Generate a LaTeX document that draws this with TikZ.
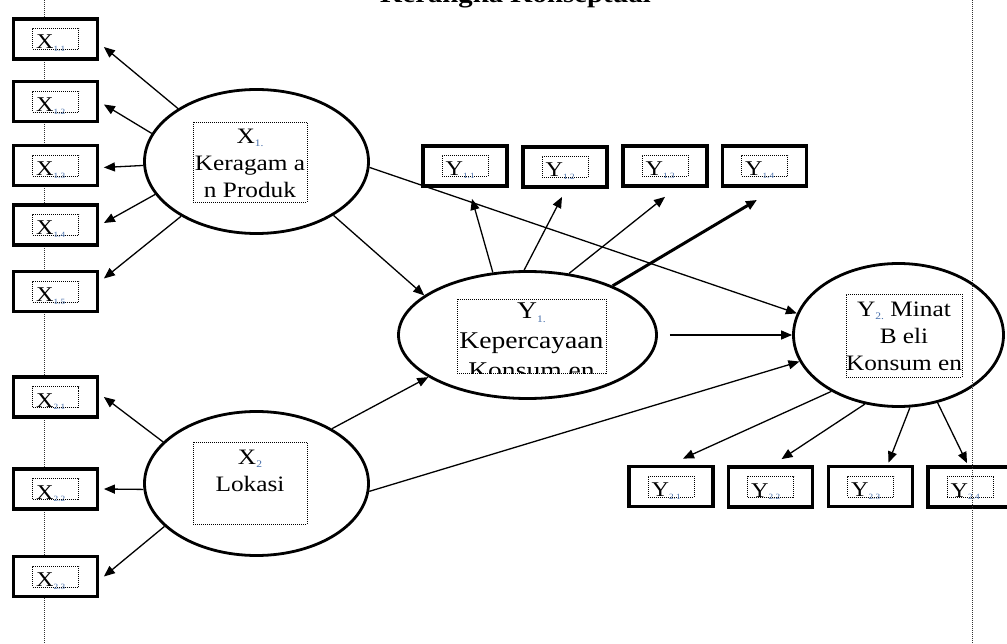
\documentclass[tikz,border=0pt]{standalone}
\usepackage{fontspec}
\setmainfont{Liberation Serif}[FakeStretch=1.15]
\usetikzlibrary{arrows.meta,shapes.geometric}
\definecolor{subcol}{RGB}{70,110,170}
\newcommand\mysub[2][10]{\raisebox{-0.3ex}{\fontsize{#1}{#1}\selectfont\textcolor{subcol}{#2}}}
\newcommand\mkind[4]{%
  \node[indbox] (#1) at (#2,#3) {};
  \node[dotbox, minimum width=46pt, minimum height=21pt] (#1d) at (#1) {};
  \node[smalltxt, anchor=base west] (#1t) at ([xshift=-19.5pt,yshift=-10pt]#1.center) {#4};
}
\begin{document}
\begin{tikzpicture}[x=1pt,y=-1pt,
  >={Triangle[length=11pt,width=9pt]},
  indbox/.style={draw, line width=3.8pt, fill=white, minimum width=84pt, minimum height=40pt, inner sep=0pt},
  dotbox/.style={draw, line width=0.9pt, dash pattern=on 1pt off 1pt, inner sep=0pt},
  smalltxt/.style={font=\fontsize{21}{21}\selectfont, inner sep=0pt},
  latent/.style={draw, ellipse, line width=2.8pt, fill=white, inner sep=0pt},
  lattext/.style={align=center, inner sep=0pt, font=\fontsize{22}{27}\selectfont},
  path/.style={->, line width=1.3pt},
  vline/.style={line width=1pt, dash pattern=on 1pt off 1pt, black!80}
]
\useasboundingbox (0,0) rectangle (1007,644);
\fill[white] (0,0) rectangle (1007,644);

% title (cut at top, as in the reference)
\node[font=\fontsize{25}{25}\selectfont\bfseries, anchor=base west, inner sep=0pt] (title) at (380,3) {Kerangka Konseptual};

% left dotted line
\coordinate (lt) at (44,0);
\coordinate (lb) at (44,644);
\draw[vline] (lt) -- (lb);

% latent variables
\node[latent, minimum width=224pt, minimum height=144pt] (X1) at (256.5,161.5) {};
\node[latent, minimum width=224pt, minimum height=144pt] (X2) at (256.5,483.5) {};
\node[latent, minimum width=258pt, minimum height=127pt] (Y1) at (527.5,335) {};
\node[latent, minimum width=210pt, minimum height=143pt] (Y2) at (898.5,335) {};

\node[dotbox, minimum width=114pt, minimum height=80pt] (X1b) at (250,162) {};
\node[lattext, anchor=north] (X1t) at (250,129) {X\mysub{1.}\\Keragam a\\n Produk};

\node[dotbox, minimum width=114pt, minimum height=82pt] (X2b) at (250,483) {};
\node[lattext, anchor=north] (X2t) at (250,450) {X\mysub{2}\\Lokasi};

\begin{scope}
\clip (457,299) rectangle (606,373);
\node[lattext, anchor=north, font=\fontsize{24}{30}\selectfont] (Y1t) at (531.5,303) {Y\mysub{1.}\\Kepercayaan\\Konsum en};
\end{scope}
\node[dotbox, minimum width=149pt, minimum height=74pt] (Y1b) at (531.5,336) {};

\node[dotbox, minimum width=116pt, minimum height=83pt] (Y2b) at (904,335.5) {};
\node[lattext, anchor=north] (Y2t) at (904,302) {Y\mysub{2.} Minat\\B eli\\Konsum en};

% indicators
\mkind{x11}{55.5}{39}{X\mysub[8]{1.1}}
\mkind{x12}{55.5}{101.5}{X\mysub[8]{1.2}}
\mkind{x13}{55.5}{165.5}{X\mysub[8]{1.3}}
\mkind{x14}{55.5}{225}{X\mysub[8]{1.4}}
\mkind{x15}{55.5}{291.5}{X\mysub[8]{1.5}}
\mkind{x21}{55.5}{397}{X\mysub[8]{2.1}}
\mkind{x22}{55.5}{489}{X\mysub[8]{2.2}}
\mkind{x23}{55.5}{576.5}{X\mysub[8]{2.3}}
\mkind{y11}{465}{166}{Y\mysub[8]{1.1}}
\mkind{y12}{565}{167}{Y\mysub[8]{1.2}}
\mkind{y13}{665}{166}{Y\mysub[8]{1.3}}
\mkind{y14}{764.5}{166}{Y\mysub[8]{1.4}}
\mkind{y21}{671}{486.5}{Y\mysub[8]{2.1}}
\mkind{y22}{770.5}{487}{Y\mysub[8]{2.2}}
\mkind{y23}{870.5}{486.5}{Y\mysub[8]{2.3}}
\mkind{y24}{970}{487}{Y\mysub[8]{2.4}}

% X1 indicators
\draw[path] (X1.146) -- ([xshift=4.5pt,yshift=-8pt]x11.east);
\draw[path] (X1.165) -- ([xshift=4.5pt,yshift=-3pt]x12.east);
\draw[path] (X1.182) -- ([xshift=4.5pt,yshift=-2pt]x13.east);
\draw[path] (X1.198) -- ([xshift=4.5pt,yshift=2pt]x14.east);
\draw[path] (X1.216) -- ([xshift=4.5pt,yshift=13pt]x15.east);
% X2 indicators
\draw[path] (X2.156) -- ([xshift=4.5pt]x21.east);
\draw[path] (X2.183) -- ([xshift=4.5pt]x22.east);
\draw[path] (X2.205) -- ([xshift=4.5pt]x23.east);
% Y1 indicators
\draw[path] (Y1.119) -- ([xshift=7pt,yshift=-11pt]y11.south);
\draw[path] (Y1.93) -- ([xshift=-3pt,yshift=-8pt]y12.south);
\draw[path] (Y1.56) -- ([yshift=-9pt]y13.south);
\draw[path, line width=3pt] (Y1.30) -- ([xshift=-7.5pt,yshift=-12pt]y14.south);
% Y2 indicators
\draw[path] (Y2.220) -- ([xshift=12pt,yshift=6pt]y21.north);
\draw[path] (Y2.244) -- ([xshift=11pt,yshift=6pt]y22.north);
\draw[path] (Y2.279) -- ([xshift=18pt,yshift=2pt]y23.north);
\draw[path] (Y2.300) -- ([xshift=-3pt,yshift=2pt]y24.north);
% structural paths
\draw[path] (X1.325) -- (Y1.159);
\draw[path] (X2.36) -- (Y1.203);
\draw[path] (X1.357) -- (Y2.168);
\draw[path] ([xshift=12pt]Y1.east) -- (Y2.west);
\draw[path] (X2.356) -- (Y2.195);

% right dotted line (over everything)
\coordinate (rt) at (972,0);
\coordinate (rb) at (972,644);
\draw[vline] (rt) -- (rb);
\end{tikzpicture}
\end{document}
